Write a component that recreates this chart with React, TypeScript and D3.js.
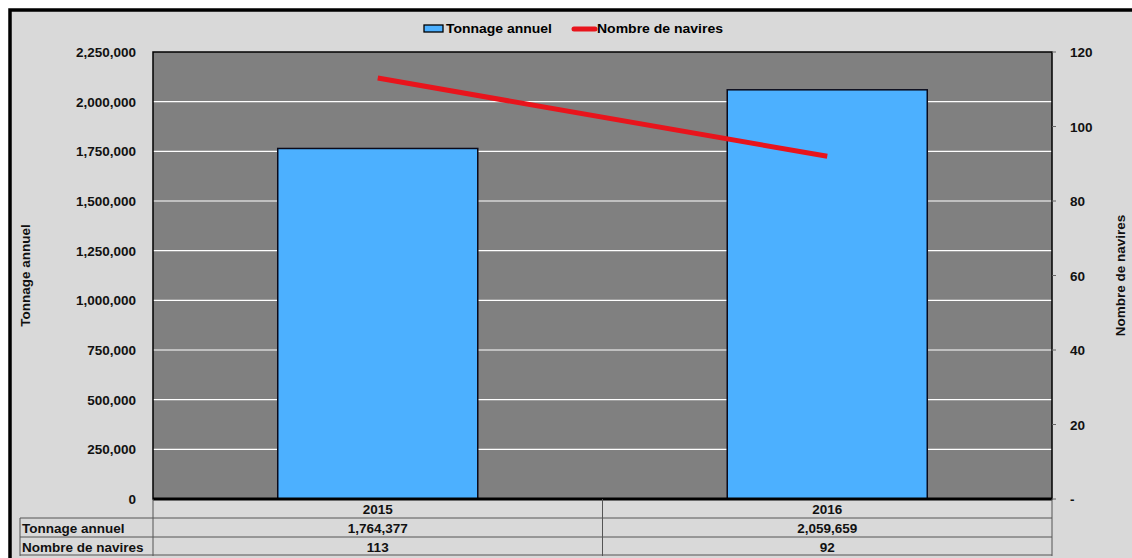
import React from "react";
import * as d3 from "d3";

const categories = ["2015", "2016"];
const tonnage = [1764377, 2059659];
const navires = [113, 92];
const leftTicks = [0, 250000, 500000, 750000, 1000000, 1250000, 1500000, 1750000, 2000000, 2250000];
const rightTicks = [0, 20, 40, 60, 80, 100, 120];

const W = 1132;
const H = 558;
const plot = { left: 153, right: 1052, top: 52, bottom: 499 };
const font = "'Liberation Sans', Arial, sans-serif";
const fmt = d3.format(",");
const FS = 13.5;

export default function App() {
  const x = d3.scaleBand<string>().domain(categories).range([plot.left, plot.right]).paddingInner(0).paddingOuter(0);
  const yL = d3.scaleLinear().domain([0, 2250000]).range([plot.bottom, plot.top]);
  const yR = d3.scaleLinear().domain([0, 120]).range([plot.bottom, plot.top]);
  const barW = x.bandwidth() * 0.445;
  const line = d3
    .line<number>()
    .x((_, i) => (x(categories[i]) as number) + x.bandwidth() / 2)
    .y((d) => yR(d));
  const rowH = 19;
  const tableTop = plot.bottom;
  const rows = [
    { label: "Tonnage annuel", vals: tonnage.map((v) => fmt(v)) },
    { label: "Nombre de navires", vals: navires.map((v) => String(v)) },
  ];
  return (
    <svg width={W} height={H} style={{ position: "absolute", left: 0, top: 0, background: "#fff" }}>
      <rect x={0} y={0} width={W} height={H} fill="#fff" />
      <rect x={10} y={10} width={W + 20} height={H + 20} fill="#d9d9d9" stroke="#000" strokeWidth={3.5} />
      {/* legend */}
      <g fontFamily={font} fontSize={FS} fontWeight="bold" fill="#000">
        <rect x={424} y={25} width={19} height={7} fill="#4cb0ff" stroke="#000" strokeWidth={1.3} />
        <text x={446} y={33} textLength={106} lengthAdjust="spacingAndGlyphs">Tonnage annuel</text>
        <line x1={574} x2={595} y1={29} y2={29} stroke="#e8141c" strokeWidth={5} strokeLinecap="round" />
        <text x={597} y={33} textLength={126} lengthAdjust="spacingAndGlyphs">Nombre de navires</text>
      </g>
      {/* plot area */}
      <rect x={plot.left} y={plot.top} width={plot.right - plot.left} height={plot.bottom - plot.top} fill="#808080" />
      {leftTicks.slice(1, -1).map((t) => (
        <line key={t} x1={plot.left} x2={plot.right} y1={yL(t)} y2={yL(t)} stroke="#fff" strokeWidth={1.2} />
      ))}
      {categories.map((c, i) => {
        const cx = (x(c) as number) + x.bandwidth() / 2;
        return (
          <rect
            key={c}
            x={cx - barW / 2}
            y={yL(tonnage[i])}
            width={barW}
            height={plot.bottom - yL(tonnage[i])}
            fill="#4cb0ff"
            stroke="#0a0a1a"
            strokeWidth={1.5}
          />
        );
      })}
      <path d={line(navires) as string} fill="none" stroke="#e8141c" strokeWidth={5} />
      <rect x={plot.left} y={plot.top} width={plot.right - plot.left} height={plot.bottom - plot.top} fill="none" stroke="#000" strokeWidth={1.5} />
      <line x1={plot.left} x2={plot.right} y1={plot.bottom} y2={plot.bottom} stroke="#000" strokeWidth={3} />
      {/* axis labels */}
      <g fontFamily={font} fontSize={FS} fontWeight="bold" fill="#111">
        {leftTicks.map((t) => (
          <text key={t} x={136} y={yL(t) + 5} textAnchor="end">
            {fmt(t)}
          </text>
        ))}
        {rightTicks.map((t) => (
          <g key={t}>
            <line x1={plot.right} x2={plot.right + 4} y1={yR(t)} y2={yR(t)} stroke="#666" />
            <text x={1070} y={yR(t) + 5} textAnchor="start">
              {t === 0 ? "-" : String(t)}
            </text>
          </g>
        ))}
        <text transform={`translate(30,${(plot.top + plot.bottom) / 2}) rotate(-90)`} textAnchor="middle">
          Tonnage annuel
        </text>
        <text transform={`translate(1125,${(plot.top + plot.bottom) / 2}) rotate(-90)`} textAnchor="middle">
          Nombre de navires
        </text>
      </g>
      {/* data table */}
      <g fontFamily={font} fontSize={FS} fontWeight="bold" fill="#111">
        {categories.map((c) => {
          const cx = (x(c) as number) + x.bandwidth() / 2;
          return (
            <text key={c} x={cx} y={tableTop + 15} textAnchor="middle">
              {c}
            </text>
          );
        })}
        {rows.map((r, ri) => {
          const y0 = tableTop + rowH * (ri + 1);
          return (
            <g key={r.label}>
              <text x={22} y={y0 + 15}>
                {r.label}
              </text>
              {r.vals.map((v, i) => (
                <text key={i} x={(x(categories[i]) as number) + x.bandwidth() / 2} y={y0 + 15} textAnchor="middle">
                  {v}
                </text>
              ))}
            </g>
          );
        })}
        <g stroke="#555" strokeWidth={1}>
          <line x1={20} x2={plot.right} y1={tableTop + rowH} y2={tableTop + rowH} />
          <line x1={20} x2={plot.right} y1={tableTop + rowH * 2} y2={tableTop + rowH * 2} />
          <line x1={20} x2={plot.right} y1={tableTop + rowH * 3 - 1} y2={tableTop + rowH * 3 - 1} />
          <line x1={20} x2={20} y1={tableTop + rowH} y2={tableTop + rowH * 3} />
          {[plot.left, (x(categories[1]) as number), plot.right].map((xx, i) => (
            <line key={i} x1={xx} x2={xx} y1={tableTop} y2={tableTop + rowH * 3} />
          ))}
        </g>
      </g>
    </svg>
  );
}
